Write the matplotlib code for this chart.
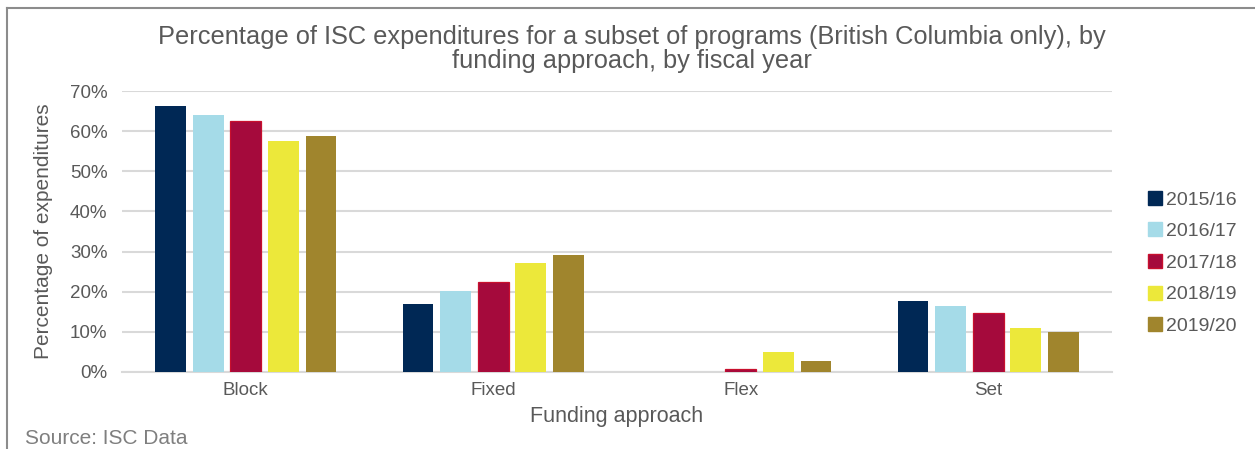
import matplotlib
matplotlib.use("Agg")
import matplotlib.pyplot as plt
import numpy as np
from matplotlib.ticker import FuncFormatter
from matplotlib.lines import Line2D

categories = ["Block", "Fixed", "Flex", "Set"]
years = ["2015/16", "2016/17", "2017/18", "2018/19", "2019/20"]
v2015 = [66.2, 16.9, 0.0, 17.6]
v2016 = [64.0, 20.3, 0.0, 16.4]
v2017 = [62.6, 22.3, 0.7, 14.7]
v2018 = [57.5, 27.2, 4.9, 11.0]
v2019 = [58.9, 29.2, 2.7, 10.0]
series = [v2015, v2016, v2017, v2018, v2019]
colors = ["#002855", "#a5dbe8", "#a50a3c", "#ece83a", "#a0852d"]
edges = ["#002855", "#a5dbe8", "#c8102e", "#ece83a", "#a0852d"]
edge_w = [0, 0, 0.9, 0, 0]

plt.rcParams['font.family'] = ['Liberation Sans', 'DejaVu Sans']
txt = "#595959"

fig = plt.figure(figsize=(12.55, 4.49), dpi=100)
ax = fig.add_axes([122/1255, 77/449, 990/1255, 281/449])

x = np.arange(len(categories))
pitch = 0.152
width = 0.125
for i, (vals, c, ec, lw) in enumerate(zip(series, colors, edges, edge_w)):
    ax.bar(x + (i - 2) * pitch, vals, width=width, color=c, edgecolor=ec,
           linewidth=lw, label=years[i], zorder=3)

ax.set_xlim(-0.5, 3.5)
ax.set_ylim(0, 70)
ax.set_yticks(np.arange(0, 71, 10))
ax.yaxis.set_major_formatter(FuncFormatter(lambda v, p: f"{int(v)}%"))
ax.grid(axis='y', color="#d9d9d9", linewidth=1.5, zorder=0)
for s in ["top", "right", "left"]:
    ax.spines[s].set_visible(False)
ax.spines["bottom"].set_color("#d9d9d9")
ax.spines["bottom"].set_linewidth(1.5)
ax.tick_params(axis='both', length=0, labelsize=13.5, labelcolor=txt)
ax.tick_params(axis='y', pad=10.5)
ax.tick_params(axis='x', pad=7)
ax.set_xticks(x)
ax.set_xticklabels(categories)
ax.set_ylabel("Percentage of expenditures", fontsize=15, color=txt, labelpad=12)
ax.set_xlabel("Funding approach", fontsize=15.5, color=txt, labelpad=5)

fig.text(632/1255, 1 - 49/449,
         "Percentage of ISC expenditures for a subset of programs (British Columbia only), by\nfunding approach, by fiscal year",
         ha='center', va='center', fontsize=18.3, color=txt, linespacing=0.98)

handles = [Line2D([0], [0], marker='s', linestyle='none', markersize=9.5,
                  markerfacecolor=c, markeredgecolor=ec) for c, ec in zip(colors, edges)]
leg = fig.legend(handles, years, loc='center left', bbox_to_anchor=(1145/1255, 1 - 263/449),
                 frameon=False, fontsize=14, labelspacing=0.72, handletextpad=0.1,
                 handlelength=1.0, borderpad=0, borderaxespad=0)
for t in leg.get_texts():
    t.set_color(txt)

fig.text(25/1255, 1 - 438/449, "Source: ISC Data", fontsize=15, color="#7f7f7f",
         ha='left', va='center')

# chart frame (left and top edges visible)
fig.add_artist(Line2D([7/1255, 7/1255], [0, 1 - 8/449], transform=fig.transFigure,
                      color="#8c8c8c", linewidth=1.5))
fig.add_artist(Line2D([7/1255, 1], [1 - 8/449, 1 - 8/449], transform=fig.transFigure,
                      color="#8c8c8c", linewidth=1.5))

fig.savefig("out.png", dpi=100, facecolor="white")
